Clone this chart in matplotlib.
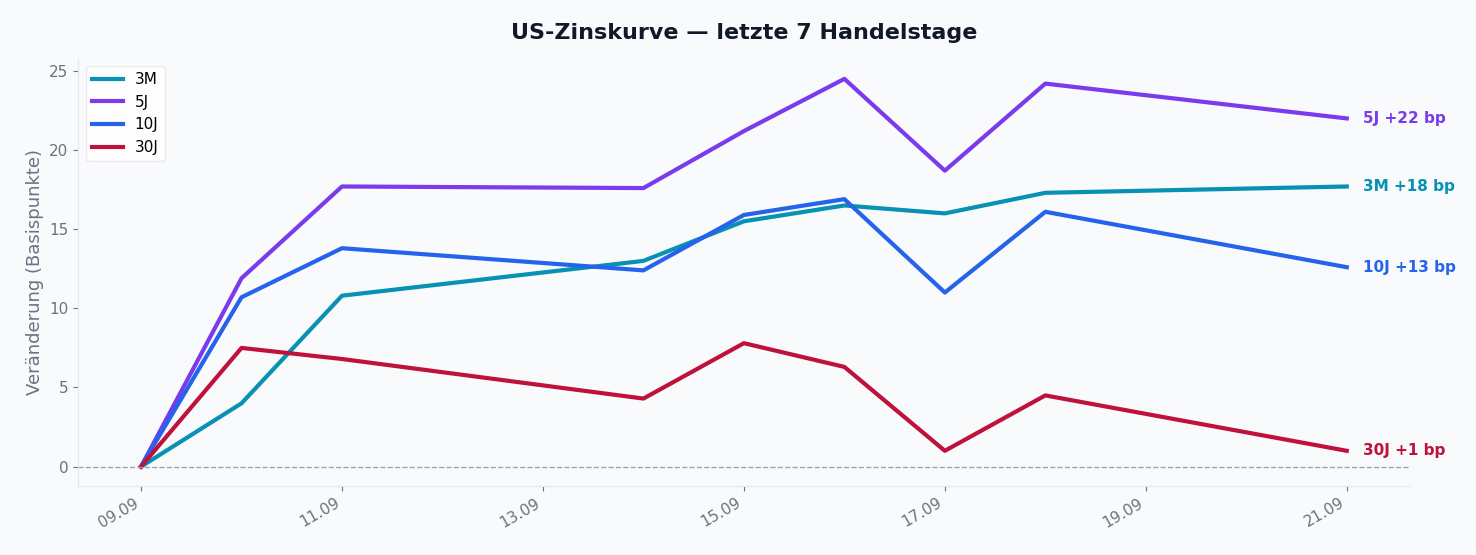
import matplotlib
matplotlib.use("Agg")
import matplotlib.pyplot as plt
import matplotlib.dates as mdates
import pandas as pd

dates = pd.to_datetime(["2025-09-09", "2025-09-10", "2025-09-11", "2025-09-14", "2025-09-15",
                        "2025-09-16", "2025-09-17", "2025-09-18", "2025-09-21"])
m3 = [0, 4.0, 10.8, 13.0, 15.5, 16.5, 16.0, 17.3, 17.7]
y5 = [0, 11.9, 17.7, 17.6, 21.2, 24.5, 18.7, 24.2, 22.0]
y10 = [0, 10.7, 13.8, 12.4, 15.9, 16.9, 11.0, 16.1, 12.6]
y30 = [0, 7.5, 6.8, 4.3, 7.8, 6.3, 1.0, 4.5, 1.0]
labels = ["3M", "5J", "10J", "30J"]
colors = ["#0891b2", "#7c3aed", "#2563eb", "#be123c"]
end_labels = ["3M +18 bp", "5J +22 bp", "10J +13 bp", "30J +1 bp"]

bg = "#f8fafc"
fig, ax = plt.subplots(figsize=(14.76, 5.55), dpi=100)
fig.patch.set_facecolor(bg)
ax.set_facecolor(bg)
fig.subplots_adjust(left=0.053, right=0.955, top=0.895, bottom=0.125)

for series, lab, col, txt in zip([m3, y5, y10, y30], labels, colors, end_labels):
    ax.plot(dates, series, color=col, lw=3, label=lab)
    ax.annotate(txt, (dates[-1], series[-1]), xytext=(12, 0), textcoords="offset points",
                color=col, fontsize=11, fontweight="bold", va="center")

ax.axhline(0, color="#9ca3af", lw=1, ls="--")
ax.set_ylim(-1.2, 25.8)
ax.set_xlim(pd.Timestamp("2025-09-08 09:00"), pd.Timestamp("2025-09-21 15:00"))
ax.xaxis.set_major_locator(mdates.DayLocator(interval=2))
ax.xaxis.set_major_formatter(mdates.DateFormatter("%d.%m"))
plt.setp(ax.get_xticklabels(), rotation=30, ha="right")
ax.tick_params(colors="#6b7280", labelsize=11)
ax.set_ylabel("Veränderung (Basispunkte)", color="#6b7280", fontsize=13)
ax.set_title("US-Zinskurve — letzte 7 Handelstage", fontsize=16, fontweight="bold",
             color="#111827", pad=14)
for s in ["top", "right"]:
    ax.spines[s].set_visible(False)
for s in ["left", "bottom"]:
    ax.spines[s].set_color("#e5e7eb")
ax.legend(loc="upper left", fontsize=11, facecolor="white", edgecolor="#e5e7eb")
fig.savefig("out.png", facecolor=bg)
